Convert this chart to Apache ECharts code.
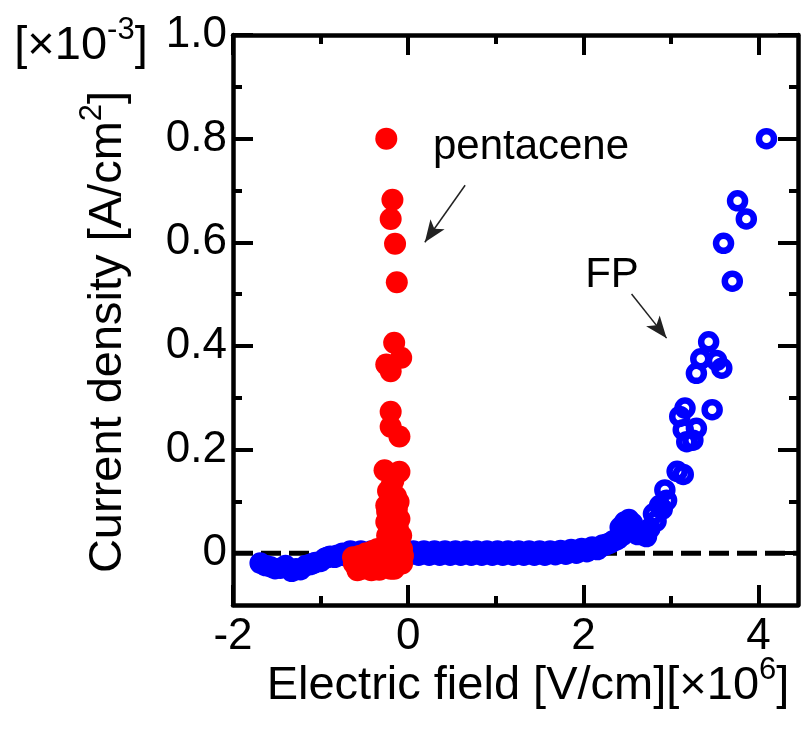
<!DOCTYPE html>
<html>
<head>
<meta charset="utf-8">
<script src="https://cdn.jsdelivr.net/npm/echarts@6/dist/echarts.min.js"></script>
<style>
  html, body { margin: 0; padding: 0; background: #fff; }
  #chart { width: 806px; height: 729px; }
</style>
</head>
<body>
<div id="chart"></div>
<script>
const xMajorTicks = [-2, 0, 2, 4]
const xMinorTicks = [-1, 1, 3]
const yMajorTicks = [0, 0.2, 0.4, 0.6, 0.8, 1.0]
const yMinorTicks = [0.1, 0.3, 0.5, 0.7, 0.9]

// [electric field (x10^6 V/cm), current density (x10^-3 A/cm2)]
const pentaceneData = [
  [-0.62, -0.02], [-0.58, -0.033], [-0.55, -0.005], [-0.5, -0.028], [-0.45, -0.012],
  [-0.42, -0.033], [-0.38, -0.02], [-0.33, -0.032], [-0.3, -0.005], [-0.27, -0.025],
  [-0.22, -0.01], [-0.2, -0.03], [-0.15, -0.018], [-0.1, -0.008], [-0.07, -0.02],
  [-0.06, -0.005], [-0.48, 0.0], [-0.4, 0.004], [-0.35, 0.008], [-0.25, 0.01],
  [-0.12, 0.008], [-0.07, 0.008], [-0.63, -0.008], [-0.52, -0.03], [-0.16, -0.03],
  [-0.15, 0.02], [-0.1, 0.02], [-0.18, 0.03], [-0.24, 0.034], [-0.08, 0.034],
  [-0.19, 0.047], [-0.12, 0.05], [-0.22, 0.05], [-0.25, 0.06], [-0.1, 0.066],
  [-0.17, 0.07], [-0.22, 0.078], [-0.24, 0.08], [-0.13, 0.085], [-0.25, 0.092],
  [-0.11, 0.099], [-0.2, 0.1], [-0.14, 0.11], [-0.21, 0.115], [-0.23, 0.12],
  [-0.19, 0.131], [-0.17, 0.14], [-0.27, 0.16], [-0.1, 0.157], [-0.1, 0.225],
  [-0.2, 0.244], [-0.2, 0.273], [-0.2, 0.351], [-0.25, 0.364], [-0.08, 0.377],
  [-0.16, 0.406], [-0.13, 0.523], [-0.15, 0.597], [-0.2, 0.645], [-0.18, 0.682],
  [-0.25, 0.8]
]

const fpLowField = [
  [-1.69, -0.019], [-1.575, -0.026], [-1.46, -0.029], [-1.4, -0.024], [-1.33, -0.035],
  [-1.23, -0.032], [-1.17, -0.024], [-1.12, -0.022], [-1.06, -0.018], [-1.0, -0.016],
  [-0.95, -0.01], [-0.89, -0.006], [-0.84, -0.008], [-0.78, -0.004], [-0.72, -0.005],
  [-0.66, 0.004], [-0.6, -0.004], [-0.54, 0.004], [-0.48, -0.004], [-0.42, 0.004],
  [-0.36, -0.004], [-0.3, 0.004], [-0.24, -0.004], [-0.18, 0.004], [-0.12, -0.004],
  [-0.06, 0.004], [0.0, -0.004], [0.06, 0.004], [0.12, -0.004], [0.18, 0.004],
  [0.24, -0.004], [0.3, 0.004], [0.36, -0.004], [0.42, 0.004], [0.48, -0.004],
  [0.54, 0.004], [0.6, -0.004], [0.66, 0.004], [0.72, -0.004], [0.78, 0.004],
  [0.84, -0.004], [0.9, 0.004], [0.96, -0.004], [1.02, 0.004], [1.08, -0.004],
  [1.14, 0.004], [1.2, -0.004], [1.26, 0.004], [1.32, -0.004], [1.38, 0.004],
  [1.44, -0.004], [1.5, 0.004], [1.56, -0.004], [1.62, 0.004], [1.68, -0.003],
  [1.74, 0.005], [1.8, -0.002], [1.86, 0.007], [1.92, 0.0], [1.98, 0.009],
  [2.04, 0.003], [2.1, 0.012], [2.16, 0.007], [2.22, 0.016], [2.28, 0.018],
  [2.34, 0.024]
]

// second pass through the dense low-field band
const fpLowFieldMid = [
  [-1.63, -0.024], [-1.52, -0.03], [-1.28, -0.03], [-1.09, -0.02], [-0.92, -0.008],
  [-0.81, -0.004], [-0.75, 0.0], [-0.69, -0.002], [-0.63, 0.001], [-0.57, -0.001],
  [-0.51, 0.001], [-0.45, -0.001], [-0.39, 0.001], [-0.33, -0.001], [-0.27, 0.001],
  [-0.21, -0.001], [-0.15, 0.001], [-0.09, -0.001], [-0.03, 0.001], [0.03, -0.001],
  [0.09, 0.001], [0.15, -0.001], [0.21, 0.001], [0.27, -0.001], [0.33, 0.001],
  [0.39, -0.001], [0.45, 0.001], [0.51, -0.001], [0.57, 0.001], [0.63, -0.001],
  [0.69, 0.001], [0.75, -0.001], [0.81, 0.001], [0.87, -0.001], [0.93, 0.001],
  [0.99, -0.001], [1.05, 0.001], [1.11, -0.001], [1.17, 0.001], [1.23, -0.001],
  [1.29, 0.001], [1.35, -0.001], [1.41, 0.001], [1.47, -0.001], [1.53, 0.001],
  [1.59, -0.001], [1.65, 0.002], [1.71, 0.001], [1.77, 0.003], [1.83, 0.002],
  [1.89, 0.004], [1.95, 0.004], [2.01, 0.006], [2.07, 0.007], [2.13, 0.01],
  [2.19, 0.011], [2.25, 0.016], [2.31, 0.02], [2.37, 0.025]
]

const fpHighField = [
  [2.4, 0.028], [2.45, 0.035], [2.42, 0.05], [2.47, 0.06], [2.52, 0.065],
  [2.56, 0.058], [2.5, 0.045], [2.58, 0.042], [2.62, 0.036], [2.68, 0.04],
  [2.72, 0.032], [2.76, 0.048], [2.8, 0.076], [2.83, 0.062], [2.87, 0.092],
  [2.9, 0.085], [2.95, 0.102], [2.93, 0.122], [3.07, 0.158], [3.14, 0.152],
  [3.18, 0.215], [3.25, 0.218], [3.14, 0.238], [3.29, 0.241], [3.1, 0.264],
  [3.16, 0.28], [3.47, 0.277], [3.29, 0.347], [3.34, 0.375], [3.43, 0.408],
  [3.52, 0.372], [3.58, 0.357], [3.7, 0.525], [3.6, 0.598], [3.86, 0.645],
  [3.76, 0.68], [4.09, 0.8]
]

const zeroLine = [[-2, 0], [4.45, 0]]

const FONT = '"Liberation Sans", Arial, sans-serif'
const X_MIN = -2, X_MAX = 4.45, Y_MIN = -0.1, Y_MAX = 1.0

function makeAxis(kind, position, ticks, tickLen, main, labels) {
  return {
    type: 'value',
    position: position,
    min: kind === 'x' ? X_MIN : Y_MIN,
    max: kind === 'x' ? X_MAX : Y_MAX,
    axisLine: { show: main, onZero: false, lineStyle: { color: '#000', width: 4.5 } },
    axisTick: {
      show: true, inside: true, length: tickLen, customValues: ticks,
      lineStyle: { color: '#000', width: 4 }
    },
    axisLabel: labels ? {
      show: true,
      customValues: ticks,
      margin: kind === 'x' ? 10 : 6,
      color: '#000',
      fontSize: 44,
      fontFamily: FONT,
      formatter: v => kind === 'x' ? String(v) : (v === 0 ? '0' : v.toFixed(1))
    } : { show: false },
    splitLine: { show: false }
  }
}

function titleText(x, y, text, rotation) {
  return {
    type: 'text', x: x, y: y, rotation: rotation || 0,
    style: {
      text: text, fill: '#000', font: '47px ' + FONT, lineHeight: 62,
      align: 'center', verticalAlign: 'middle',
      rich: { sup: { fontSize: 31, fontFamily: FONT, lineHeight: 31, verticalAlign: 'top', fill: '#000' } }
    }
  }
}

const arrowLine = {
  silent: true,
  symbol: ['none', 'arrow'],
  symbolSize: [13, 22],
  label: { show: false },
  lineStyle: { color: '#222', width: 1.5, type: 'solid' }
}

const chart = echarts.init(document.getElementById('chart'))

chart.setOption({
  animation: false,
  backgroundColor: '#fff',
  grid: { left: 233, right: 8, top: 35, bottom: 124 },
  xAxis: [
    makeAxis('x', 'bottom', xMajorTicks, 20, true, true),
    makeAxis('x', 'bottom', xMinorTicks, 9, false, false),
    makeAxis('x', 'top', xMajorTicks, 20, true, false),
    makeAxis('x', 'top', xMinorTicks, 9, false, false)
  ],
  yAxis: [
    makeAxis('y', 'left', yMajorTicks, 20, true, true),
    makeAxis('y', 'left', yMinorTicks, 9, false, false),
    makeAxis('y', 'right', yMajorTicks, 20, true, false),
    makeAxis('y', 'right', yMinorTicks, 9, false, false)
  ],
  series: [
    {
      type: 'line',
      data: zeroLine,
      symbol: 'none',
      silent: true,
      z: 1,
      lineStyle: { color: '#000', width: 5, type: [20, 8] }
    },
    {
      name: 'FP',
      type: 'scatter',
      data: fpLowField.concat(fpLowFieldMid, fpHighField),
      symbol: 'circle',
      symbolSize: 15,
      z: 2,
      itemStyle: { color: 'rgba(0,0,0,0)', borderColor: '#0000ff', borderWidth: 6.5, opacity: 1 },
      markLine: Object.assign({}, arrowLine, {
        data: [[{ coord: [2.55, 0.5] }, { coord: [2.95, 0.415] }]]
      })
    },
    {
      name: 'pentacene',
      type: 'scatter',
      data: pentaceneData,
      symbol: 'circle',
      symbolSize: 22,
      z: 3,
      itemStyle: { color: '#ff0000', opacity: 1 },
      markLine: Object.assign({}, arrowLine, {
        data: [[{ coord: [0.65, 0.71] }, { coord: [0.19, 0.6] }]]
      })
    }
  ],
  graphic: [
    {
      type: 'text', x: 531, y: 147,
      style: { text: 'pentacene', fill: '#000', font: '42px ' + FONT, align: 'center', verticalAlign: 'middle' }
    },
    {
      type: 'text', x: 612, y: 275,
      style: { text: 'FP', fill: '#000', font: '42px ' + FONT, align: 'center', verticalAlign: 'middle' }
    },
    titleText(528, 686, 'Electric field [V/cm][×10{sup|6}]'),
    titleText(108, 332, 'Current density [A/cm{sup|2}]', Math.PI / 2),
    titleText(81, 46, '[×10{sup|-3}]')
  ]
})
</script>
</body>
</html>
